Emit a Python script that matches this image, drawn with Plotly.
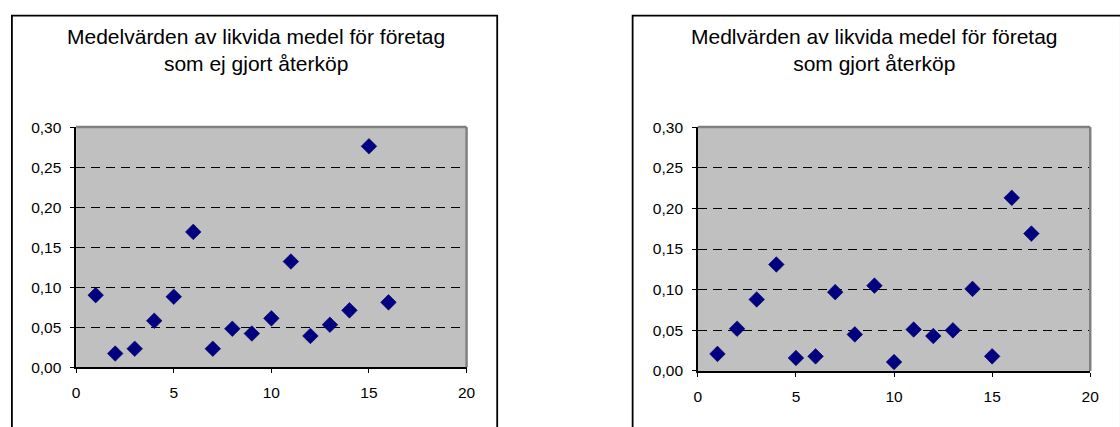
import plotly.graph_objects as go

W, H = 1120, 427

# ---- data ----
title_left = "Medelvärden av likvida medel för företag<br>som ej gjort återköp"
title_right = "Medlvärden av likvida medel för företag<br>som gjort återköp"

x_left = list(range(1, 17))
y_left = [0.090, 0.017, 0.023, 0.058, 0.088, 0.169, 0.023, 0.048, 0.042, 0.061,
          0.132, 0.039, 0.053, 0.071, 0.276, 0.081]

x_right = list(range(1, 18))
y_right = [0.021, 0.052, 0.088, 0.131, 0.016, 0.018, 0.097, 0.045, 0.105, 0.011,
           0.051, 0.043, 0.050, 0.101, 0.018, 0.213, 0.169]

x_ticks = [0, 5, 10, 15, 20]
y_ticks = [0.00, 0.05, 0.10, 0.15, 0.20, 0.25, 0.30]

# ---- layout geometry (pixels) ----
def px_x(p):
    return p / W

def px_y(p):
    return 1 - p / H

fig = go.Figure()

marker = dict(symbol="diamond", size=12, color="#000080",
              line=dict(width=0.6, color="#000060"))

fig.add_trace(go.Scatter(x=x_left, y=y_left, mode="markers", marker=marker,
                         xaxis="x", yaxis="y", showlegend=False, cliponaxis=False))
fig.add_trace(go.Scatter(x=x_right, y=y_right, mode="markers", marker=marker,
                         xaxis="x2", yaxis="y2", showlegend=False, cliponaxis=False))

tickfont = dict(family="Liberation Sans, Arial", size=15.5, color="black")

def xaxis(domain, anchor):
    return dict(domain=domain, anchor=anchor, range=[0, 20], tickvals=x_ticks,
                ticks="outside", ticklen=4, tickcolor="black", tickwidth=1,
                showline=True, linecolor="black", linewidth=1.5,
                showgrid=False, zeroline=False, tickfont=tickfont,
                ticklabelstandoff=7, fixedrange=True)

def yaxis(domain, anchor):
    return dict(domain=domain, anchor=anchor, range=[0, 0.30], tickvals=y_ticks,
                tickformat=".2f", ticks="outside", ticklen=4, tickcolor="black",
                tickwidth=1, showline=True, linecolor="black", linewidth=1.5,
                showgrid=True, gridcolor="black", gridwidth=1, griddash="9px,6px",
                zeroline=False, tickfont=tickfont, ticklabelstandoff=6,
                fixedrange=True)

L = dict(x0=73, x1=468, y0=123, y1=373)
R = dict(x0=702, x1=1099, y0=123, y1=377)

shapes = []
# outer chart boxes
shapes.append(dict(type="rect", xref="paper", yref="paper",
                   x0=px_x(8), x1=px_x(499), y0=px_y(440), y1=px_y(7),
                   line=dict(color="black", width=1.8), layer="above"))
shapes.append(dict(type="rect", xref="paper", yref="paper",
                   x0=px_x(636), x1=px_x(1130), y0=px_y(440), y1=px_y(7),
                   line=dict(color="black", width=1.8), layer="above"))
# gray plot-area borders (top and right)
for b in (L, R):
    shapes.append(dict(type="line", xref="paper", yref="paper",
                       x0=px_x(b["x0"]), x1=px_x(b["x1"]), y0=px_y(b["y0"]), y1=px_y(b["y0"]),
                       line=dict(color="#808080", width=2.5), layer="above"))
    shapes.append(dict(type="line", xref="paper", yref="paper",
                       x0=px_x(b["x1"]), x1=px_x(b["x1"]), y0=px_y(b["y0"]), y1=px_y(b["y1"]),
                       line=dict(color="#808080", width=2.5), layer="above"))

titlefont = dict(family="Liberation Sans, Arial", size=21, color="black")
annotations = [
    dict(text=title_left, xref="paper", yref="paper", x=px_x(255), y=px_y(43),
         xanchor="center", yanchor="middle", showarrow=False, font=titlefont, align="center"),
    dict(text=title_right, xref="paper", yref="paper", x=px_x(881), y=px_y(43),
         xanchor="center", yanchor="middle", showarrow=False, font=titlefont, align="center"),
]

fig.update_layout(
    width=W, height=H, margin=dict(l=0, r=0, t=0, b=0),
    paper_bgcolor="white", plot_bgcolor="#C0C0C0",
    separators=", ",
    xaxis=xaxis([px_x(L["x0"]), px_x(L["x1"])], "y"),
    yaxis=yaxis([px_y(L["y1"]), px_y(L["y0"])], "x"),
    xaxis2=xaxis([px_x(R["x0"]), px_x(R["x1"])], "y2"),
    yaxis2=yaxis([px_y(R["y1"]), px_y(R["y0"])], "x2"),
    shapes=shapes, annotations=annotations,
    showlegend=False,
)

fig.write_html("out.html")
